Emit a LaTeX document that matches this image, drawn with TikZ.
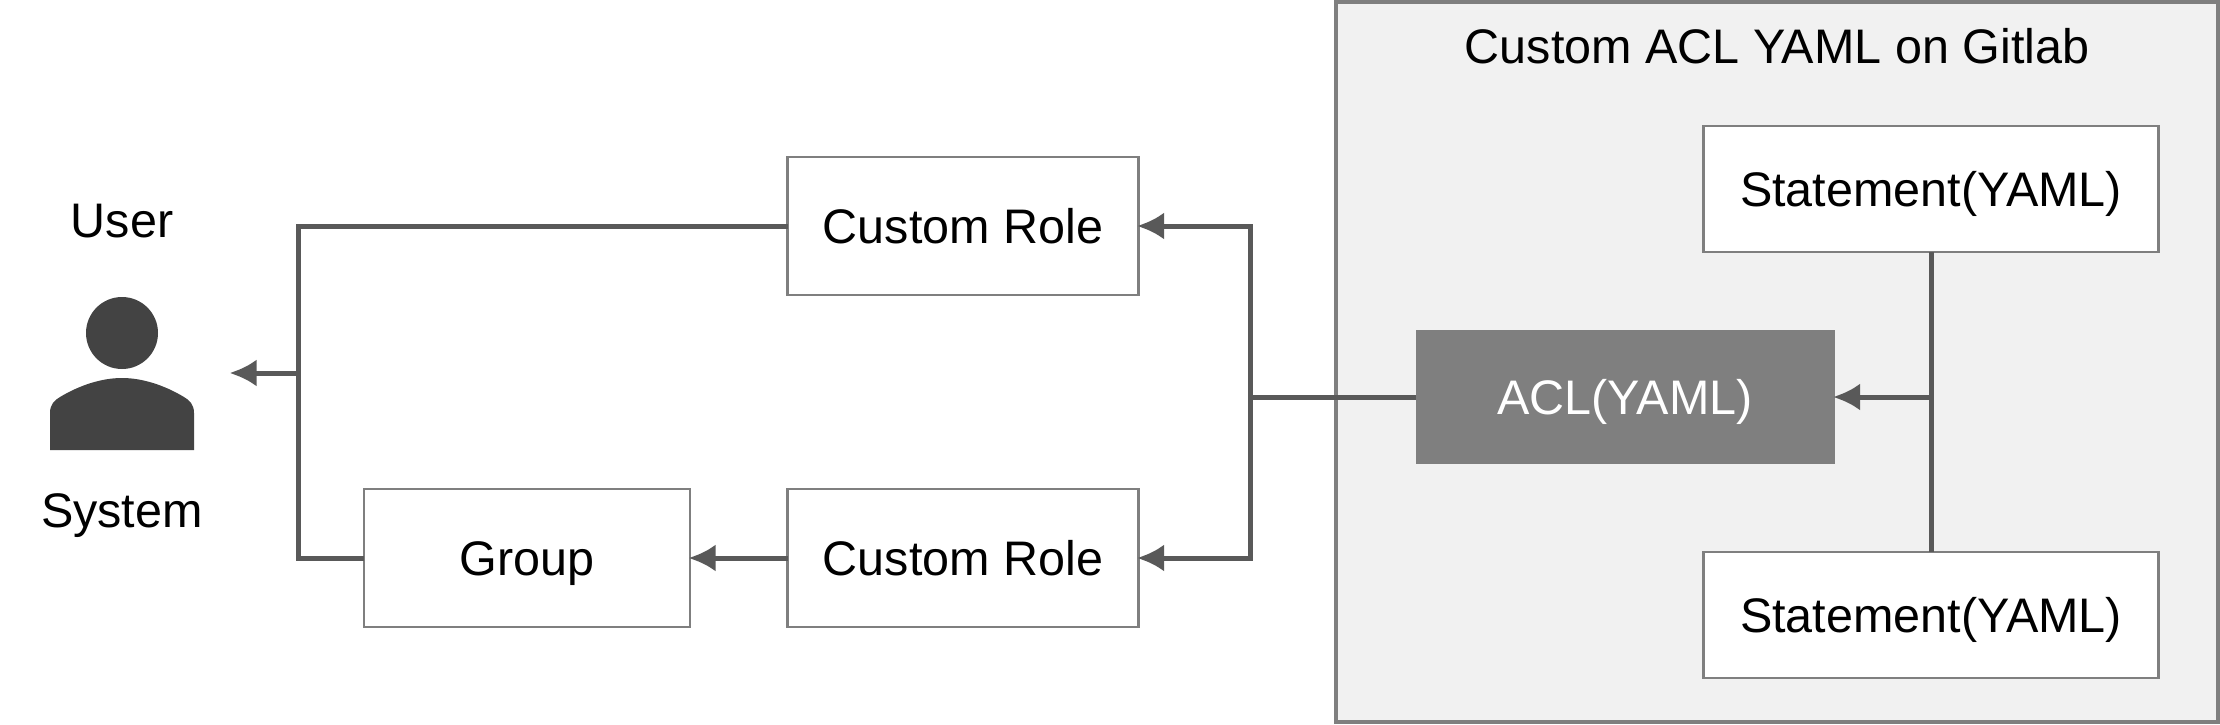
\documentclass[tikz,border=0pt]{standalone}
\usepackage{fontspec}
\setmainfont{Liberation Sans}
\usetikzlibrary{arrows.meta,positioning}
\definecolor{linegray}{HTML}{595959}
\definecolor{boxgray}{HTML}{7F7F7F}
\definecolor{panelgray}{HTML}{F1F1F1}
\definecolor{icongray}{HTML}{434343}
\tikzset{
  txt/.style={font=\fontsize{13.8pt}{16pt}\selectfont,text height=.44cm,text depth=.1cm,inner sep=0pt,outer sep=0pt},
  box/.style={txt,draw=boxgray,line width=.025cm,fill=white,minimum height=1.38cm},
  link/.style={draw=linegray,line width=.05cm},
  arrow/.style={link,shorten >=-.015cm,-{Latex[length=.27cm,width=.27cm]}}
}
\begin{document}
\begin{tikzpicture}[node distance=3cm,on grid]
   \useasboundingbox (0,0) rectangle (22.2,7.24);
   \node[txt,draw=boxgray,line width=.04cm,fill=panelgray,minimum width=8.82cm,minimum height=7.2cm] (panel) at (17.77,3.62) {};
   \node[txt] (title) [below=.18cm of panel.north] {Custom ACL YAML on Gitlab};
   \node[box,draw=none,fill=boxgray,text=white,minimum width=4.19cm,minimum height=1.34cm] (acl) [below left=.35cm and 1.52cm of panel] {ACL(YAML)};
   \node[box,minimum width=4.55cm,minimum height=1.26cm] (stmt1) [above right=2.08cm and 3.06cm of acl] {Statement(YAML)};
   \node[box,minimum width=4.55cm,minimum height=1.26cm] (stmt2) [below right=2.18cm and 3.06cm of acl] {Statement(YAML)};
   \node[box,minimum width=3.51cm] (role1) [above left=1.71cm and 6.62cm of acl] {Custom Role};
   \node[box,minimum width=3.51cm] (role2) [below=3.32cm of role1] {Custom Role};
   \node[box,minimum width=3.26cm] (group) [left=4.36cm of role2] {Group};
   \node[circle,fill=icongray,minimum size=.72cm,inner sep=0pt] (head) at (1.22,3.91) {};
   \node[txt] (user) [above=1.13cm of head] {User};
   \node[txt] (system) [below=1.77cm of head] {System};
   \fill[icongray] (.5,2.74) -- (.5,3.11) .. controls (.5,3.2) and (.55,3.24) .. (.6,3.27)
     .. controls (.8,3.39) and (1.02,3.46) .. (1.22,3.46)
     .. controls (1.42,3.46) and (1.64,3.39) .. (1.84,3.27)
     .. controls (1.89,3.24) and (1.94,3.2) .. (1.94,3.11) -- (1.94,2.74) -- cycle;
   \coordinate[left=3.75cm of acl] (fork);
   \coordinate (stmtfork) at (stmt1.south |- acl.east);
   \coordinate (usertrunk) at (2.98,3.51);
   \coordinate (usertip) at (2.31,3.51);
   \path[link] (role1.west) -| (usertrunk) |- (group.west);
   \path[arrow] (usertrunk) -- (usertip);
   \path[arrow] (role2.west) -- (group.east);
   \path[link] (acl.west) -- (fork);
   \path[arrow] (fork) |- (role1.east);
   \path[arrow] (fork) |- (role2.east);
   \path[link] (stmt1.south) -- (stmt2.north);
   \path[arrow] (stmtfork) -- (acl.east);
\end{tikzpicture}
\end{document}
